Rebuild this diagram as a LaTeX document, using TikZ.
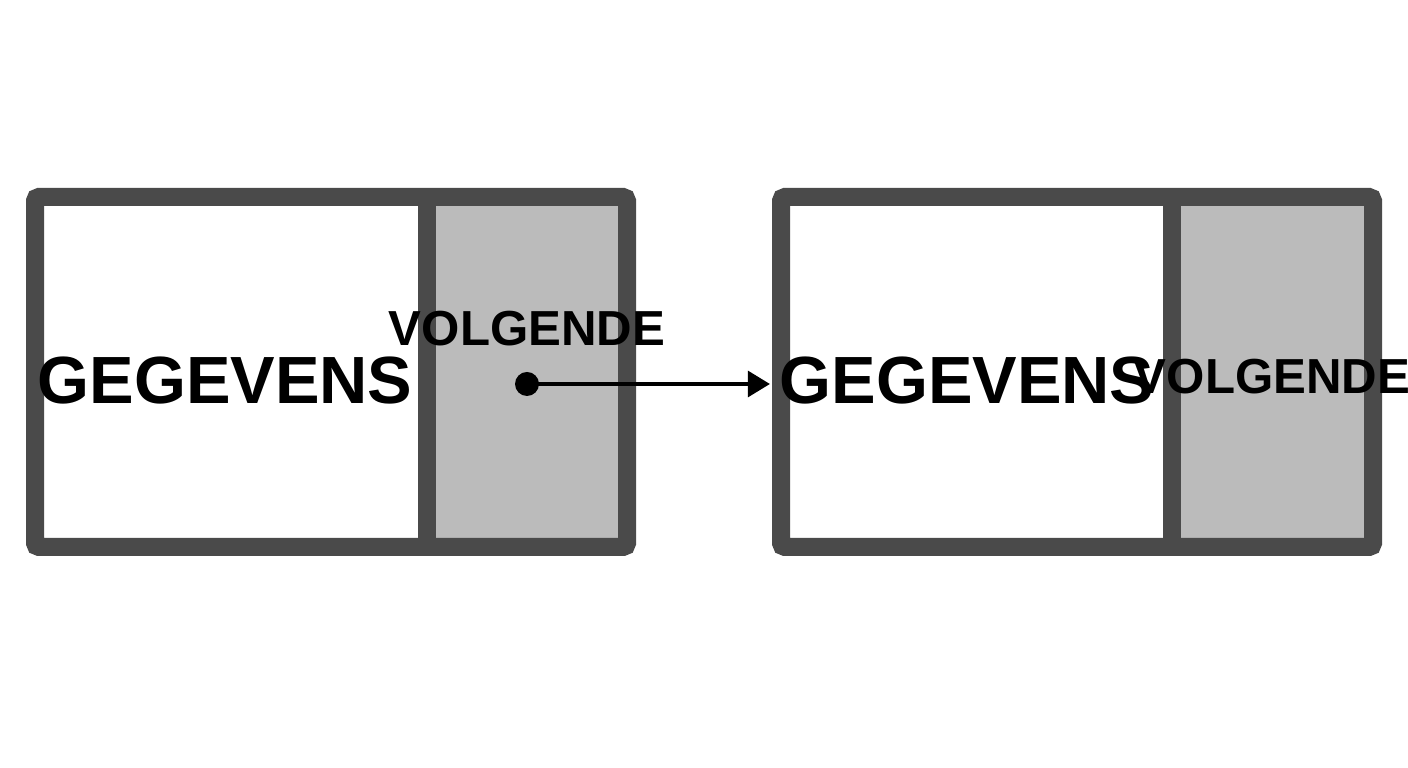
\documentclass[tikz,border=0pt]{standalone}
\usepackage{fontspec}
\setmainfont{Liberation Sans}
\usetikzlibrary{arrows.meta}
\tikzset{>=Triangle}
\definecolor{frame}{HTML}{4A4A4A}
\definecolor{cell}{HTML}{BBBBBB}
\tikzset{box/.style={draw=frame, line width=0.18cm, rounded corners=0.04cm}}
\begin{document}
\begin{tikzpicture}
    \useasboundingbox(0, 0) rectangle (14.08, 7.68);
    % left element
    \fill[cell](4.27, 2.21) rectangle (6.27, 5.71);
    \draw[box](0.35, 2.21) rectangle (6.27, 5.71);
    \draw[frame, line width=0.18cm](4.27, 2.21)--(4.27, 5.71);
    \node(data1)at(2.25, 3.87){\fontsize{19}{22}\selectfont\bfseries GEGEVENS};
    \node(next1)at(5.27, 4.39){\fontsize{14}{16}\selectfont\bfseries VOLGENDE};
    % right element
    \fill[cell](11.72, 2.21) rectangle (13.73, 5.71);
    \draw[box](7.81, 2.21) rectangle (13.73, 5.71);
    \draw[frame, line width=0.18cm](11.72, 2.21)--(11.72, 5.71);
    \node(data2)at(9.67, 3.87){\fontsize{19}{22}\selectfont\bfseries GEGEVENS};
    \node(next2)at(12.72, 3.91){\fontsize{14}{16}\selectfont\bfseries VOLGENDE};
    % pointer
    \coordinate(ptr)at(5.27, 3.84);
    \coordinate(head)at(7.70, 3.84);
    \fill(ptr)circle(0.12);
    \draw[->, line width=0.045cm](ptr)--(head);
\end{tikzpicture}
\end{document}
